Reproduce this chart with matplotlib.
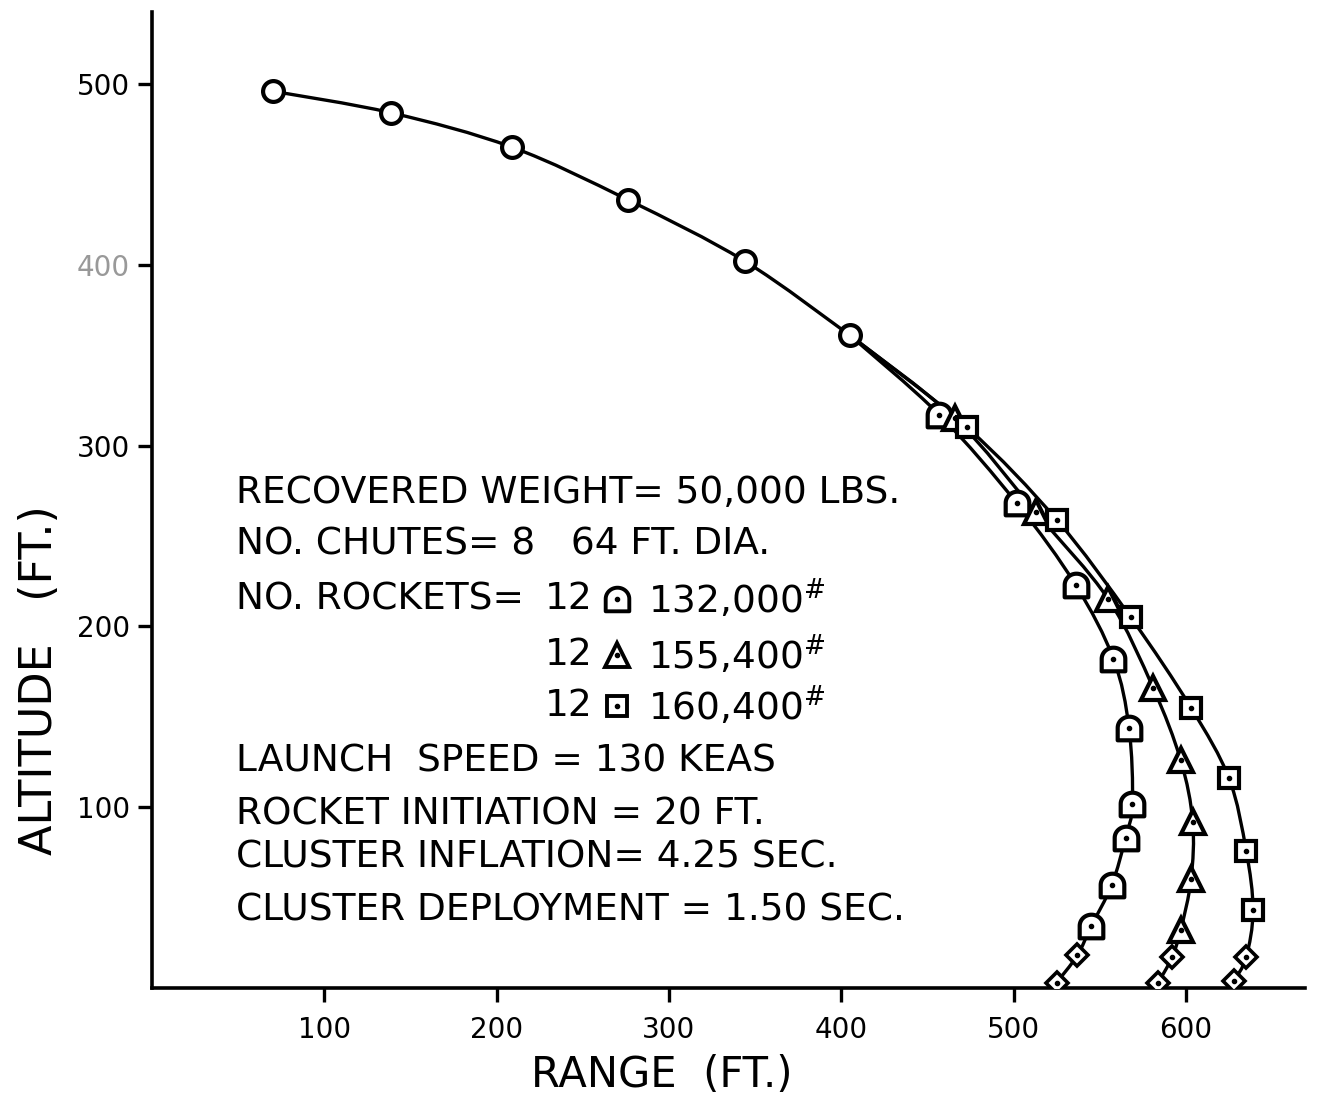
import numpy as np
import matplotlib.pyplot as plt
from matplotlib.path import Path
from matplotlib.patches import PathPatch

plt.rcParams['font.family'] = ['DejaVu Sans']
plt.rcParams['mathtext.fontset'] = 'dejavusans'

# common trajectory before the rockets separate (open circles)
common_x = [70, 139, 209, 276, 344, 405]
common_y = [496, 484, 465, 436, 402, 361]

# 12 rockets @ 132,000 lb
r132_x = [457, 502, 536, 558, 567, 569, 565, 557, 545]
r132_y = [317, 268, 223, 182, 144, 102, 83, 57, 34]
r132_end_x = [537, 525]
r132_end_y = [18, 3]

# 12 rockets @ 155,400 lb
r155_x = [466, 513, 555, 581, 597, 604, 603, 597]
r155_y = [315, 263, 215, 166, 126, 92, 60, 32]
r155_end_x = [592, 584]
r155_end_y = [17, 3]

# 12 rockets @ 160,400 lb
r160_x = [473, 525, 568, 603, 625, 635, 639]
r160_y = [310, 259, 205, 155, 116, 76, 43]
r160_end_x = [635, 628]
r160_end_y = [17, 4]

x_ticks = [100, 200, 300, 400, 500, 600]
y_ticks = [100, 200, 300, 400, 500]
y_tick_labels = ['100', '200', '300', '400', '500']

notes = [
    "RECOVERED WEIGHT= 50,000 LBS.",
    "NO. CHUTES= 8   64 FT. DIA.",
    "NO. ROCKETS=",
    "LAUNCH  SPEED = 130 KEAS",
    "ROCKET INITIATION = 20 FT.",
    "CLUSTER INFLATION= 4.25 SEC.",
    "CLUSTER DEPLOYMENT = 1.50 SEC.",
]
rocket_loads = ["132,000$^{\\#}$", "155,400$^{\\#}$", "160,400$^{\\#}$"]


def smooth_path(xs, ys):
    # hand-drawn look: cubic curve through the points (Catmull-Rom)
    p = np.column_stack([xs, ys]).astype(float)
    verts = [p[0]]
    codes = [Path.MOVETO]
    n = len(p)
    for i in range(n - 1):
        p0 = p[max(i - 1, 0)]
        p1, p2 = p[i], p[i + 1]
        p3 = p[min(i + 2, n - 1)]
        verts += [p1 + (p2 - p0) / 6, p2 - (p3 - p1) / 6, p2]
        codes += [Path.CURVE4] * 3
    return Path(verts, codes)


# bell-shaped marker (flat bottom, round top)
t = np.linspace(0, np.pi, 30)
bell_verts = np.vstack([[[-1, -1.0], [1, -1.0], [1, 0.05]],
                        np.column_stack([np.cos(t), 0.05 + 0.95 * np.sin(t)]),
                        [[-1, -1.0]]])
bell = Path(bell_verts, closed=True)

fig = plt.figure(figsize=(13.19, 10.97), dpi=100)
ax = fig.add_axes([0.1152, 0.0994, 0.874, 0.89])

lw = 2.4
mew = 3.0

# lines
ax.add_patch(PathPatch(smooth_path(common_x, common_y), fill=False, lw=lw,
                       ec='k', zorder=2))
for xs, ys, ex, ey in [(r132_x, r132_y, r132_end_x, r132_end_y),
                       (r155_x, r155_y, r155_end_x, r155_end_y),
                       (r160_x, r160_y, r160_end_x, r160_end_y)]:
    path = smooth_path(common_x[-1:] + xs + ex, common_y[-1:] + ys + ey)
    ax.add_patch(PathPatch(path, fill=False, lw=lw, ec='k', zorder=2))

# markers
ax.plot(common_x, common_y, 'o', ms=15, mfc='white', mec='k', mew=mew,
        zorder=4)
ax.plot(r132_x, r132_y, ls='none', marker=bell, ms=17, mfc='white',
        mec='k', mew=mew, zorder=4)
ax.plot(r155_x, r155_y, ls='none', marker='^', ms=17, mfc='white',
        mec='k', mew=mew, zorder=4)
ax.plot(r160_x, r160_y, ls='none', marker='s', ms=15, mfc='white',
        mec='k', mew=mew, zorder=4)
for ex, ey in [(r132_end_x, r132_end_y), (r155_end_x, r155_end_y),
               (r160_end_x, r160_end_y)]:
    ax.plot(ex, ey, ls='none', marker='D', ms=11, mfc='white', mec='k',
            mew=2.6, zorder=4)
dots_x = r132_x + r155_x + r160_x + r132_end_x + r155_end_x + r160_end_x
dots_y = r132_y + r155_y + r160_y + r132_end_y + r155_end_y + r160_end_y
ax.plot(dots_x, dots_y, 'o', ms=3, color='k', zorder=5)

# axes styling
ax.set_xlim(0, 669)
ax.set_ylim(0, 540)
for s in ['top', 'right']:
    ax.spines[s].set_visible(False)
for s in ['left', 'bottom']:
    ax.spines[s].set_linewidth(2.6)
ax.set_xticks(x_ticks)
ax.set_yticks(y_ticks)
ax.set_yticklabels(y_tick_labels)
ax.get_yticklabels()[3].set_color('0.6')
ax.tick_params(axis='both', direction='out', length=10, width=2.4,
               labelsize=20, pad=6)
ax.tick_params(axis='x', pad=10)

fig.text(40 / 1319, 1 - 680 / 1097, "ALTITUDE   (FT.)", rotation=90,
         ha='center', va='center', fontsize=32)
fig.text(662 / 1319, 1 - 1075 / 1097, "RANGE  (FT.)", ha='center',
         va='center', fontsize=30)

# annotation block
fs = 27
left = 49
ax.text(left, 274, notes[0], fontsize=fs, va='center')
ax.text(left, 245, notes[1], fontsize=fs, va='center')
ax.text(left, 215, notes[2], fontsize=fs, va='center')
row_y = [215, 184, 156]
row_mk = [bell, '^', 's']
row_ms = [17, 17, 15]
for ry, mk, ms, load in zip(row_y, row_mk, row_ms, rocket_loads):
    ax.text(228, ry, "12", fontsize=fs, va='center')
    ax.plot([270], [ry], ls='none', marker=mk, ms=ms, mfc='white',
            mec='k', mew=2.8)
    ax.plot([270], [ry], 'o', ms=3, color='k')
    ax.text(288, ry, load, fontsize=fs, va='center')
ax.text(left, 125, notes[3], fontsize=fs, va='center')
ax.text(left, 96, notes[4], fontsize=fs, va='center')
ax.text(left, 72, notes[5], fontsize=fs, va='center')
ax.text(left, 43, notes[6], fontsize=fs, va='center')

fig.savefig("out.png", dpi=100, facecolor='white')
